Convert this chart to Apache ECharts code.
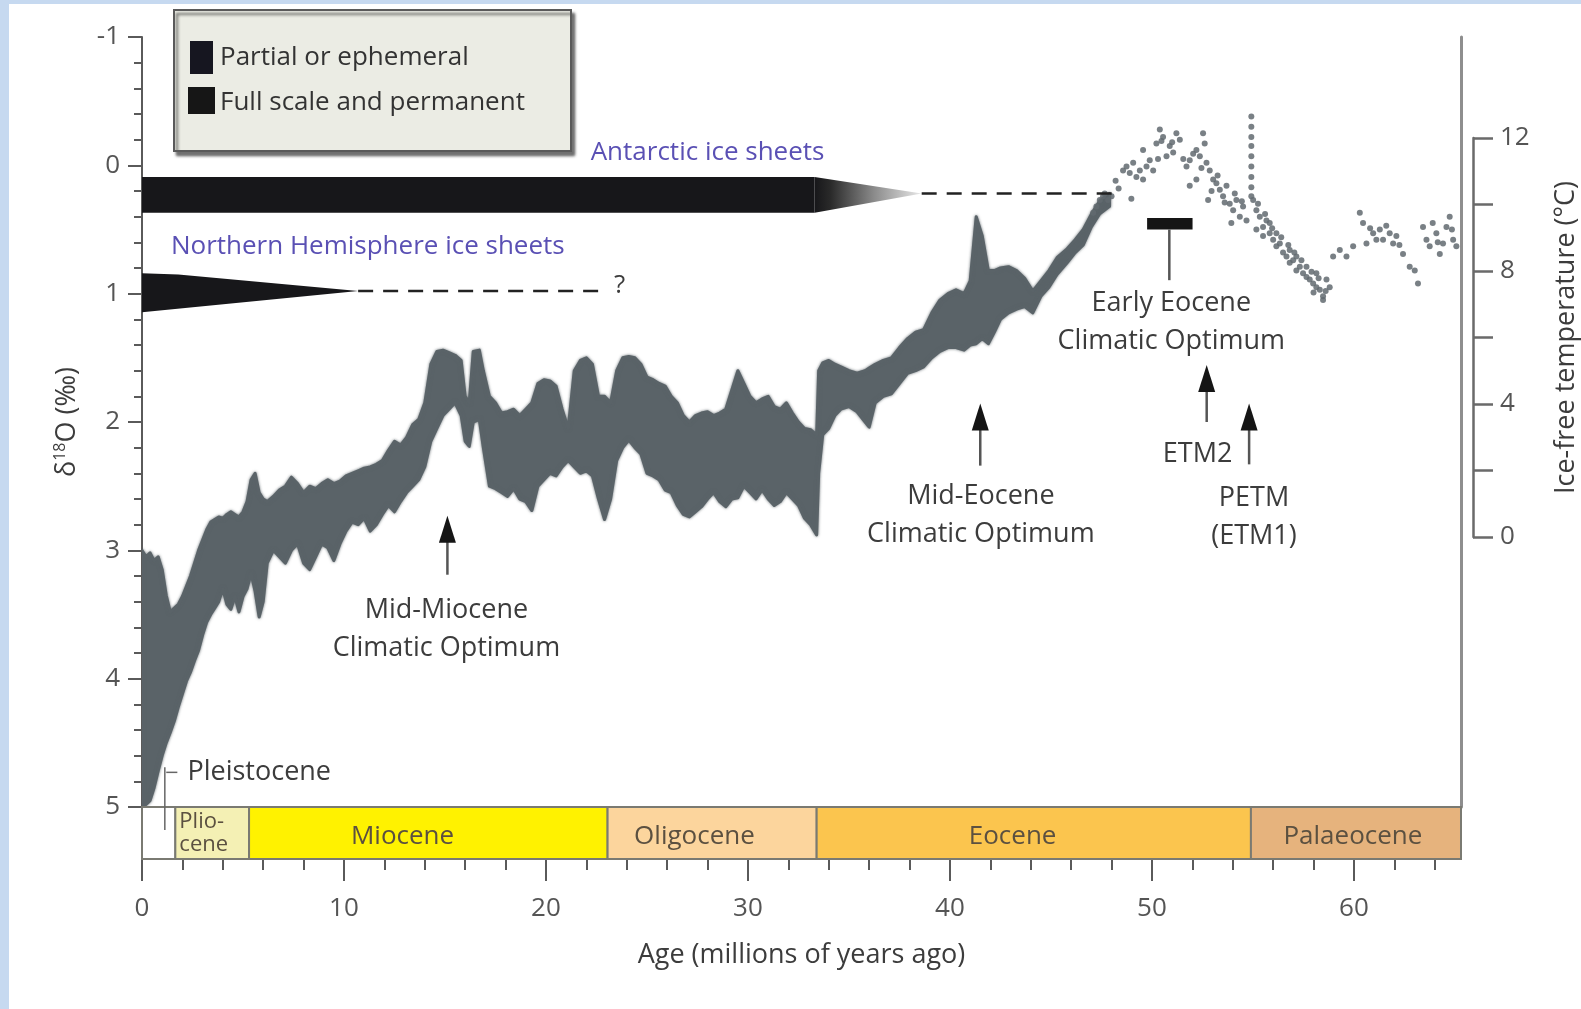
<!DOCTYPE html>
<html>
<head>
<meta charset="utf-8">
<script src="https://cdn.jsdelivr.net/npm/echarts@6/dist/echarts.min.js"></script>
<style>
  html, body { margin: 0; padding: 0; background: #ffffff; }
  #chart { width: 1581px; height: 1009px; }
</style>
</head>
<body>
<div id="chart"></div>
<script>
// ---------------------------------------------------------------------------
// Cenozoic deep-sea benthic δ18O record, ice-sheet history and epochs
// ---------------------------------------------------------------------------
const AGE_MAX = 65.3;

// Envelope of the dense benthic record: [age (Ma), lightest δ18O, heaviest δ18O]
const pliocenePleistoceneEnv = [
  [0.0,3.00,5.00],[0.2,3.05,4.98],[0.4,3.02,4.95],[0.6,3.08,4.85],[0.8,3.05,4.72],
  [1.0,3.15,4.60],[1.2,3.35,4.50],[1.4,3.48,4.42],[1.6,3.45,4.33],[1.8,3.42,4.22],
  [2.0,3.36,4.12],[2.2,3.28,4.02],[2.4,3.20,3.95],[2.6,3.10,3.86],[2.8,3.00,3.78],
  [3.0,2.92,3.66],[3.2,2.84,3.56],[3.4,2.78,3.50],[3.6,2.76,3.45],[3.8,2.74,3.40],
  [4.0,2.75,3.30],[4.2,2.72,3.42],[4.4,2.70,3.46],[4.6,2.72,3.36],[4.8,2.74,3.48],
  [5.0,2.70,3.36],[5.2,2.62,3.30]
];
const mioceneEnv = [
  [5.4,2.45,3.18],[5.6,2.40,3.32],[5.8,2.55,3.52],[6.0,2.60,3.40],[6.2,2.62,3.10],
  [6.5,2.58,3.00],[6.8,2.53,3.05],[7.1,2.50,3.10],[7.4,2.43,3.00],[7.7,2.48,2.95],
  [8.0,2.55,3.10],[8.3,2.50,3.15],[8.6,2.52,3.05],[8.9,2.48,2.95],[9.2,2.45,2.98],
  [9.5,2.48,3.08],[9.8,2.46,2.95],[10.1,2.42,2.85],[10.4,2.40,2.78],[10.7,2.38,2.80],
  [11.0,2.36,2.75],[11.3,2.35,2.85],[11.6,2.33,2.80],[11.9,2.30,2.72],[12.2,2.22,2.65],
  [12.5,2.15,2.70],[12.8,2.18,2.62],[13.1,2.12,2.55],[13.4,2.02,2.50],[13.7,1.98,2.45],
  [14.0,1.85,2.35],[14.3,1.55,2.15],[14.6,1.45,2.05],[14.9,1.44,1.95],[15.2,1.46,1.90],
  [15.5,1.48,1.85],[15.8,1.52,1.95],[16.0,1.80,2.15],[16.2,1.85,2.19],[16.4,1.45,2.00],
  [16.7,1.44,1.98],[16.9,1.60,2.20],[17.2,1.80,2.50],[17.5,1.85,2.52],[17.8,1.93,2.55],
  [18.1,1.92,2.58],[18.4,1.90,2.52],[18.7,1.95,2.60],[19.0,1.90,2.62],[19.3,1.85,2.69],
  [19.6,1.70,2.50],[19.9,1.67,2.45],[20.2,1.68,2.40],[20.5,1.72,2.42],[20.8,1.90,2.35],
  [21.1,2.05,2.30],[21.4,1.60,2.35],[21.7,1.52,2.40],[22.0,1.50,2.38],[22.3,1.55,2.42],
  [22.6,1.80,2.60],[22.9,1.80,2.76]
];
const oligoceneEnv = [
  [23.2,1.85,2.60],[23.5,1.60,2.30],[23.8,1.50,2.20],[24.1,1.49,2.14],[24.4,1.50,2.20],
  [24.7,1.55,2.25],[25.0,1.65,2.40],[25.3,1.67,2.42],[25.6,1.70,2.45],[25.9,1.72,2.53],
  [26.2,1.80,2.55],[26.5,1.85,2.65],[26.8,1.95,2.72],[27.1,2.00,2.74],[27.4,1.95,2.70],
  [27.7,1.93,2.66],[28.0,1.92,2.60],[28.3,1.95,2.55],[28.6,1.93,2.62],[28.9,1.90,2.66],
  [29.2,1.75,2.60],[29.5,1.60,2.59],[29.8,1.70,2.50],[30.1,1.80,2.55],[30.4,1.85,2.60],
  [30.7,1.82,2.53],[31.0,1.80,2.60],[31.3,1.88,2.65],[31.6,1.90,2.62],[31.9,1.85,2.55],
  [32.2,1.93,2.60],[32.5,2.00,2.65],[32.8,2.05,2.75],[33.1,2.06,2.80],[33.4,2.10,2.88]
];
const eoceneEnv = [
  [33.5,1.60,2.40],[33.7,1.54,2.10],[34.0,1.52,2.05],[34.3,1.55,1.95],[34.6,1.57,1.90],
  [35.0,1.60,1.88],[35.4,1.62,1.92],[35.8,1.60,2.00],[36.0,1.58,2.04],[36.3,1.55,1.85],
  [36.7,1.52,1.80],[37.1,1.50,1.78],[37.5,1.42,1.70],[37.9,1.35,1.62],[38.3,1.30,1.60],
  [38.7,1.28,1.57],[39.1,1.15,1.50],[39.5,1.05,1.45],[39.9,1.00,1.42],[40.3,0.97,1.42],
  [40.7,1.00,1.44],[41.0,0.90,1.40],[41.3,0.40,1.39],[41.6,0.55,1.35],[41.9,0.82,1.39],
  [42.2,0.82,1.30],[42.5,0.80,1.20],[42.9,0.79,1.15],[43.3,0.82,1.12],[43.7,0.88,1.10],
  [44.1,0.98,1.15],[44.5,0.90,1.02],[44.9,0.82,0.95],[45.3,0.72,0.85],[45.8,0.65,0.76],
  [46.2,0.58,0.68],[46.6,0.50,0.62],[47.0,0.38,0.48],[47.4,0.28,0.38],[47.9,0.22,0.32]
];

// Individual samples of the sparser early record: [age (Ma), δ18O]
const earlyEoceneSamples = [
  [47.09,0.37],[47.25,0.32],[47.42,0.27],[47.58,0.24],[47.66,0.22],[47.83,0.27],[48.0,0.24],
  [48.2,0.12],[48.35,0.18],[48.57,0.04],[48.74,0.01],[48.9,0.06],[48.98,0.26],[49.07,-0.02],
  [49.23,0.09],[49.4,0.04],[49.56,0.11],[49.73,0.01],[49.89,-0.04],[50.06,0.04],[49.56,-0.12],
  [50.22,-0.17],[50.39,-0.28],[50.55,-0.22],[50.47,-0.19],[50.88,-0.15],[51.05,-0.10],
  [51.21,-0.25],[51.38,-0.20],[50.72,-0.07],[51.71,0.01],[51.87,-0.04],[52.04,-0.09],
  [52.2,-0.12],[52.37,-0.07],[52.53,-0.25],[52.61,-0.17],[52.7,-0.02],[52.86,0.04],
  [53.03,0.11],[51.87,0.16],[52.2,0.11],[52.78,0.27],[53.19,0.14],[53.36,0.19],[53.52,0.24],
  [53.69,0.16],[53.85,0.30],[53.93,0.45],[54.02,0.35],[54.18,0.27],[54.35,0.40],[54.51,0.32],
  [54.68,0.43],[52.45,0.02],[52.95,0.20],[53.25,0.08],[53.6,0.29],[54.1,0.22],[54.45,0.28],
  [51.55,-0.05],[51.0,-0.18],[50.3,-0.05]
];
const petmSamples = [
  [54.92,-0.38],[54.92,-0.30],[54.92,-0.22],[54.92,-0.15],[54.92,-0.07],[54.92,0.01],
  [54.92,0.09],[54.92,0.17],[54.92,0.24]
];
const palaeoceneSamples = [
  [55.01,0.27],[55.17,0.35],[55.34,0.40],[55.5,0.48],[55.67,0.43],[55.83,0.53],[56.0,0.58],
  [56.16,0.63],[56.33,0.61],[56.49,0.68],[56.66,0.71],[56.82,0.76],[56.99,0.74],[57.15,0.82],
  [57.32,0.79],[57.48,0.84],[57.65,0.87],[57.81,0.89],[57.98,0.92],[58.14,0.95],[58.31,0.97],
  [58.47,1.02],[58.64,0.89],[58.8,0.95],[55.17,0.50],[55.5,0.55],[55.83,0.45],[56.16,0.53],
  [56.82,0.66],[57.15,0.71],[57.65,0.79],[58.14,0.84],[58.47,1.05],[58.97,0.71],[59.3,0.66],
  [55.25,0.30],[55.6,0.38],[55.95,0.49],[56.4,0.56],[56.75,0.62],[57.05,0.68],[57.4,0.74],
  [57.9,0.83],[58.25,0.88],[58.6,0.98],[58.0,0.99],
  [59.63,0.71],[59.96,0.63],[60.29,0.37],[60.45,0.45],[60.62,0.61],[60.95,0.53],[61.11,0.58],
  [61.28,0.50],[61.44,0.58],[61.77,0.53],[61.94,0.61],[62.1,0.55],[62.43,0.69],[62.76,0.79],
  [63.01,0.82],[63.17,0.92],[63.42,0.48],[63.59,0.58],[63.75,0.63],[64.08,0.53],[64.25,0.69],
  [64.41,0.61],[64.58,0.48],[64.74,0.40],[64.91,0.58],[65.07,0.63],
  [60.8,0.49],[61.6,0.47],[62.25,0.62],[63.9,0.45],[64.15,0.60],[64.85,0.50]
];

// Geological epochs: [name, start (Ma), end (Ma)]
const epochs = [
  ['Pleistocene', 0, 1.65],
  ['Pliocene', 1.65, 5.3],
  ['Miocene', 5.3, 23.05],
  ['Oligocene', 23.05, 33.4],
  ['Eocene', 33.4, 54.9],
  ['Palaeocene', 54.9, AGE_MAX]
];

// Ice-sheet history (ages in Ma, values on the δ18O scale)
const antarcticSheet = [0, 33.3, 0.09, 0.37];      // full scale: from, to, upper, lower
const antarcticTaper = [33.3, 38.6, 0.22];         // partial: from, to, tip level
const antarcticDashed = [38.6, 48.1, 0.22];        // uncertain: from, to, level
const nhSheetOutline = [[0, 0.84], [1.8, 0.85], [10.7, 0.98], [0, 1.145]];
const nhDashed = [10.7, 22.9, 0.98];

// Tick values
const tempTicks = [0, 4, 8, 12];
const ageMajorTicks = [0, 10, 20, 30, 40, 50, 60];
const ageMinorTicks = [2, 4, 6, 8, 12, 14, 16, 18, 22, 24, 26, 28, 32, 34, 36, 38,
                       42, 44, 46, 48, 52, 54, 56, 58, 62, 64];

// ---------------------------------------------------------------------------
const FONT = '"Open Sans", "Noto Sans", sans-serif';
const CLOUD = '#5a6368';
const SPARSE = '#616a70';
const TEXT = '#3c3c3c';
const AXIS = '#5a5a5a';
const ICE_LABEL = '#5a50b4';

const epochFill = {
  Pleistocene: '#ffffff', Pliocene: '#f4f0b4', Miocene: '#fff200',
  Oligocene: '#fcd59d', Eocene: '#fbc54e', Palaeocene: '#e6b37d'
};
const epochLabel = {
  Pliocene: { at: 1.85, text: 'Plio-\ncene', size: 22, align: 'left' },
  Miocene: { at: 12.9, text: 'Miocene' },
  Oligocene: { at: 27.35, text: 'Oligocene' },
  Eocene: { at: 43.1, text: 'Eocene' },
  Palaeocene: { at: 59.95, text: 'Palaeocene' }
};

// Annotation layout, in chart units
const eventNotes = [
  { text: 'Mid-Miocene\nClimatic Optimum', at: [15.07, 3.615] },
  { text: 'Mid-Eocene\nClimatic Optimum', at: [41.53, 2.73] },
  { text: 'Early Eocene\nClimatic Optimum', at: [50.96, 1.22] },
  { text: 'ETM2', at: [52.26, 2.25] },
  { text: 'PETM\n(ETM1)', at: [55.05, 2.745] }
];
const eventArrows = [[15.12, 2.73, 3.19], [41.5, 1.855, 2.34], [52.71, 1.556, 2.0], [54.81, 1.855, 2.33]];
const eecoBar = [49.76, 52.01, 0.41, 0.50, 50.86, 0.895];

const d18oEnvelope = [].concat(pliocenePleistoceneEnv, mioceneEnv, oligoceneEnv, eoceneEnv);

const chart = echarts.init(document.getElementById('chart'), null, { renderer: 'canvas' });

const series = [];

// dense record drawn as its envelope
series.push({
  type: 'custom', xAxisIndex: 0, yAxisIndex: 0, silent: true, clip: true, z: 3,
  data: [[0, 3]],
  renderItem(params, api) {
    const upper = d18oEnvelope.map(r => api.coord([r[0], r[1]]));
    const lower = d18oEnvelope.map(r => api.coord([r[0], r[2]])).reverse();
    return {
      type: 'polygon',
      shape: { points: upper.concat(lower) },
      style: { fill: CLOUD, stroke: CLOUD, lineWidth: 3, lineJoin: 'round',
               shadowBlur: 3, shadowColor: 'rgba(90,99,104,0.8)' }
    };
  }
});

// sparse samples
series.push({
  type: 'scatter', xAxisIndex: 0, yAxisIndex: 0, silent: true, z: 3,
  symbol: 'circle', symbolSize: 6,
  itemStyle: { color: SPARSE, opacity: 0.85 },
  data: earlyEoceneSamples.concat(petmSamples, palaeoceneSamples)
});

// ice-sheet bars
series.push({
  type: 'custom', xAxisIndex: 0, yAxisIndex: 0, silent: true, clip: false, z: 4,
  data: [[0, 0]],
  renderItem(params, api) {
    const c = (a, d) => api.coord([a, d]);
    const children = [];
    const a0 = c(antarcticSheet[0], antarcticSheet[2]);
    const a1 = c(antarcticSheet[1], antarcticSheet[3]);
    children.push({ type: 'rect', shape: { x: a0[0], y: a0[1], width: a1[0] - a0[0], height: a1[1] - a0[1] },
      style: { fill: '#17171a' } });
    const t0 = c(antarcticTaper[0], antarcticSheet[2]);
    const t1 = c(antarcticTaper[1], antarcticTaper[2]);
    const t2 = c(antarcticTaper[0], antarcticSheet[3]);
    children.push({ type: 'polygon', shape: { points: [t0, t1, t2] },
      style: { fill: new echarts.graphic.LinearGradient(0, 0, 1, 0, [
        { offset: 0, color: '#17171a' }, { offset: 0.15, color: '#2a2a2a' },
        { offset: 0.55, color: '#8a8a8a' }, { offset: 1, color: '#e8e8e8' }]) } });
    const d0 = c(antarcticDashed[0], antarcticDashed[2]);
    const d1 = c(antarcticDashed[1], antarcticDashed[2]);
    children.push({ type: 'line', shape: { x1: d0[0], y1: d0[1], x2: d1[0], y2: d1[1] },
      style: { stroke: '#222', lineWidth: 2.5, lineDash: [15, 10] } });
    children.push({ type: 'polygon', shape: { points: nhSheetOutline.map(p => c(p[0], p[1])) },
      style: { fill: '#17171a' } });
    const n0 = c(nhDashed[0], nhDashed[2]);
    const n1 = c(nhDashed[1], nhDashed[2]);
    children.push({ type: 'line', shape: { x1: n0[0], y1: n0[1], x2: n1[0], y2: n1[1] },
      style: { stroke: '#222', lineWidth: 2.5, lineDash: [15, 10] } });
    const q = c(23.65, 0.935);
    children.push({ type: 'text', x: q[0], y: q[1],
      style: { text: '?', fontSize: 26, fontFamily: FONT, fill: TEXT, align: 'center', verticalAlign: 'middle' } });
    const al = c(28.0, -0.10);
    children.push({ type: 'text', x: al[0], y: al[1],
      style: { text: 'Antarctic ice sheets', fontSize: 26, fontFamily: FONT, fill: ICE_LABEL, align: 'center', verticalAlign: 'middle' } });
    const nl = c(11.18, 0.636);
    children.push({ type: 'text', x: nl[0], y: nl[1],
      style: { text: 'Northern Hemisphere ice sheets', fontSize: 26, fontFamily: FONT, fill: ICE_LABEL, align: 'center', verticalAlign: 'middle' } });
    return { type: 'group', children };
  }
});

// climate-event annotations
series.push({
  type: 'custom', xAxisIndex: 0, yAxisIndex: 0, silent: true, clip: false, z: 5,
  data: [[0, 0]],
  renderItem(params, api) {
    const c = (a, d) => api.coord([a, d]);
    const children = [];
    eventNotes.forEach(n => {
      const p = c(n.at[0], n.at[1]);
      children.push({ type: 'text', x: p[0], y: p[1],
        style: { text: n.text, fontSize: 27, fontFamily: FONT, fill: TEXT,
                 align: 'center', verticalAlign: 'middle', lineHeight: 38 } });
    });
    eventArrows.forEach(a => {
      const tip = c(a[0], a[1]);
      const tail = c(a[0], a[2]);
      children.push({ type: 'line', shape: { x1: tip[0], y1: tip[1] + 20, x2: tail[0], y2: tail[1] },
        style: { stroke: '#555', lineWidth: 2.5 } });
      children.push({ type: 'polygon',
        shape: { points: [[tip[0], tip[1]], [tip[0] - 8.5, tip[1] + 27], [tip[0] + 8.5, tip[1] + 27]] },
        style: { fill: '#151515' } });
    });
    const b0 = c(eecoBar[0], eecoBar[2]);
    const b1 = c(eecoBar[1], eecoBar[3]);
    children.push({ type: 'rect', shape: { x: b0[0], y: b0[1], width: b1[0] - b0[0], height: b1[1] - b0[1] },
      style: { fill: '#151515' } });
    const s0 = c(eecoBar[4], eecoBar[3]);
    const s1 = c(eecoBar[4], eecoBar[5]);
    children.push({ type: 'line', shape: { x1: s0[0], y1: s0[1], x2: s1[0], y2: s1[1] },
      style: { stroke: '#555', lineWidth: 2.5 } });
    // Pleistocene marker
    const pv0 = c(1.13, 4.69);
    const pv1 = c(1.13, 5.18);
    children.push({ type: 'line', shape: { x1: pv0[0], y1: pv0[1], x2: pv1[0], y2: pv1[1] },
      style: { stroke: '#666', lineWidth: 1.5 } });
    const ph0 = c(1.2, 4.73);
    const ph1 = c(1.75, 4.73);
    children.push({ type: 'line', shape: { x1: ph0[0], y1: ph0[1], x2: ph1[0], y2: ph1[1] },
      style: { stroke: '#666', lineWidth: 1.5 } });
    const pl = c(2.25, 4.73);
    children.push({ type: 'text', x: pl[0], y: pl[1],
      style: { text: 'Pleistocene', fontSize: 27, fontFamily: FONT, fill: TEXT, align: 'left', verticalAlign: 'middle' } });
    return { type: 'group', children };
  }
});

// epoch band
series.push({
  type: 'custom', xAxisIndex: 1, yAxisIndex: 2, silent: true, clip: false, z: 3,
  data: epochs.map(e => [e[1], e[2], e[0]]),
  dimensions: ['start', 'end', 'name'],
  renderItem(params, api) {
    const e = epochs[params.dataIndex];
    const p0 = api.coord([e[1], 1]);
    const p1 = api.coord([e[2], 0]);
    const children = [{
      type: 'rect', shape: { x: p0[0], y: p0[1], width: p1[0] - p0[0], height: p1[1] - p0[1] },
      style: { fill: epochFill[e[0]], stroke: '#7a7a72', lineWidth: 2 }
    }];
    const lab = epochLabel[e[0]];
    if (lab) {
      const lp = api.coord([lab.at, lab.size ? 0.5 : 0.44]);
      children.push({ type: 'text', x: lp[0], y: lp[1],
        style: { text: lab.text, fontSize: lab.size || 26, fontFamily: FONT, fill: '#5b5040',
                 align: lab.align || 'center', verticalAlign: 'middle', lineHeight: lab.size ? 23 : 30 } });
    }
    return { type: 'group', children };
  }
});

const option = {
  backgroundColor: '#ffffff',
  animation: false,
  textStyle: { fontFamily: FONT },
  graphic: [
    { type: 'rect', left: 0, top: 0, shape: { width: 9, height: 1009 }, style: { fill: '#c6d9f0' }, silent: true },
    { type: 'rect', left: 0, top: 0, shape: { width: 1581, height: 4 }, style: { fill: '#c6d9f0' }, silent: true },
    {
      type: 'group', left: 173, top: 9, z: 10, silent: true,
      children: [
        { type: 'rect', shape: { x: 0, y: 0, width: 397, height: 141 },
          style: { fill: '#ebece4', stroke: '#5a5a5a', lineWidth: 2,
                   shadowColor: 'rgba(0,0,0,0.55)', shadowBlur: 3, shadowOffsetX: 3, shadowOffsetY: 4 } },
        { type: 'rect', shape: { x: 16, y: 31, width: 23, height: 33 }, style: { fill: '#161620' } },
        { type: 'rect', shape: { x: 14, y: 77, width: 27, height: 27 }, style: { fill: '#161616' } },
        { type: 'text', x: 46, y: 48, style: { text: 'Partial or ephemeral', fontSize: 26, fontFamily: FONT,
          fill: '#333', verticalAlign: 'middle' } },
        { type: 'text', x: 46, y: 93, style: { text: 'Full scale and permanent', fontSize: 26, fontFamily: FONT,
          fill: '#333', verticalAlign: 'middle' } }
      ]
    }
  ],
  grid: [
    { left: 142, right: 120, top: 37, height: 770 },
    { left: 142, right: 120, top: 807, height: 52 },
    { left: 1300, right: 107, top: 138, height: 399 }
  ],
  xAxis: [
    { gridIndex: 0, type: 'value', min: 0, max: AGE_MAX, show: false },
    {
      gridIndex: 1, type: 'value', min: 0, max: AGE_MAX, position: 'bottom',
      axisLine: { show: true, onZero: false, lineStyle: { color: '#6a6a6a', width: 2 } },
      axisTick: { show: true, length: 22, customValues: ageMajorTicks, lineStyle: { color: AXIS, width: 2 } },
      axisLabel: { customValues: ageMajorTicks, margin: 37, fontSize: 26, color: '#555', fontFamily: FONT },
      splitLine: { show: false },
      name: 'Age (millions of years ago)', nameLocation: 'middle', nameGap: 83,
      nameTextStyle: { fontSize: 27, color: TEXT, fontFamily: FONT }
    },
    {
      gridIndex: 1, type: 'value', min: 0, max: AGE_MAX, position: 'bottom',
      axisLine: { show: false, onZero: false },
      axisTick: { show: true, length: 11, customValues: ageMinorTicks, lineStyle: { color: AXIS, width: 2 } },
      axisLabel: { show: false },
      splitLine: { show: false }
    },
    { gridIndex: 2, type: 'value', min: 0, max: 1, show: false }
  ],
  yAxis: [
    {
      gridIndex: 0, type: 'value', inverse: true, min: -1, max: 5, interval: 1, position: 'left',
      axisLine: { show: true, onZero: false, lineStyle: { color: AXIS, width: 2 } },
      axisTick: { show: true, length: 14, lineStyle: { color: AXIS, width: 2 } },
      minorTick: { show: true, splitNumber: 5, length: 8, lineStyle: { color: AXIS, width: 2 } },
      axisLabel: { margin: 22, fontSize: 26, color: '#555', fontFamily: FONT },
      splitLine: { show: false },
      name: 'δ{s|18}O (‰)', nameLocation: 'middle', nameGap: 60, nameRotate: 90,
      nameTextStyle: { fontSize: 27, color: TEXT, fontFamily: FONT,
        rich: { s: { fontSize: 16, color: TEXT, fontFamily: FONT, verticalAlign: 'top', lineHeight: 30 } } }
    },
    {
      gridIndex: 0, type: 'value', inverse: true, min: -1, max: 5, interval: 1, position: 'right',
      axisLine: { show: true, onZero: false, lineStyle: { color: '#8e8e8e', width: 3 } },
      axisTick: { show: false }, axisLabel: { show: false }, splitLine: { show: false }
    },
    {
      gridIndex: 1, type: 'value', min: 0, max: 1, position: 'left',
      axisLine: { show: true, onZero: false, lineStyle: { color: AXIS, width: 2 } },
      axisTick: { show: false }, axisLabel: { show: false }, splitLine: { show: false }
    },
    {
      gridIndex: 2, type: 'value', min: 0, max: 12, interval: 2, position: 'right',
      axisLine: { show: true, onZero: false, lineStyle: { color: '#6a6a6a', width: 2.5 } },
      axisTick: { show: true, length: 20, lineStyle: { color: '#6a6a6a', width: 2.5 } },
      axisLabel: { margin: 27, fontSize: 26, color: '#555', fontFamily: FONT,
        formatter: v => (tempTicks.indexOf(v) >= 0) ? String(v) : '' },
      splitLine: { show: false },
      name: 'Ice-free temperature (°C)', nameLocation: 'middle', nameGap: 80, nameRotate: 90,
      nameTextStyle: { fontSize: 27, color: TEXT, fontFamily: FONT }
    }
  ],
  series
};

chart.setOption(option);
</script>
</body>
</html>
